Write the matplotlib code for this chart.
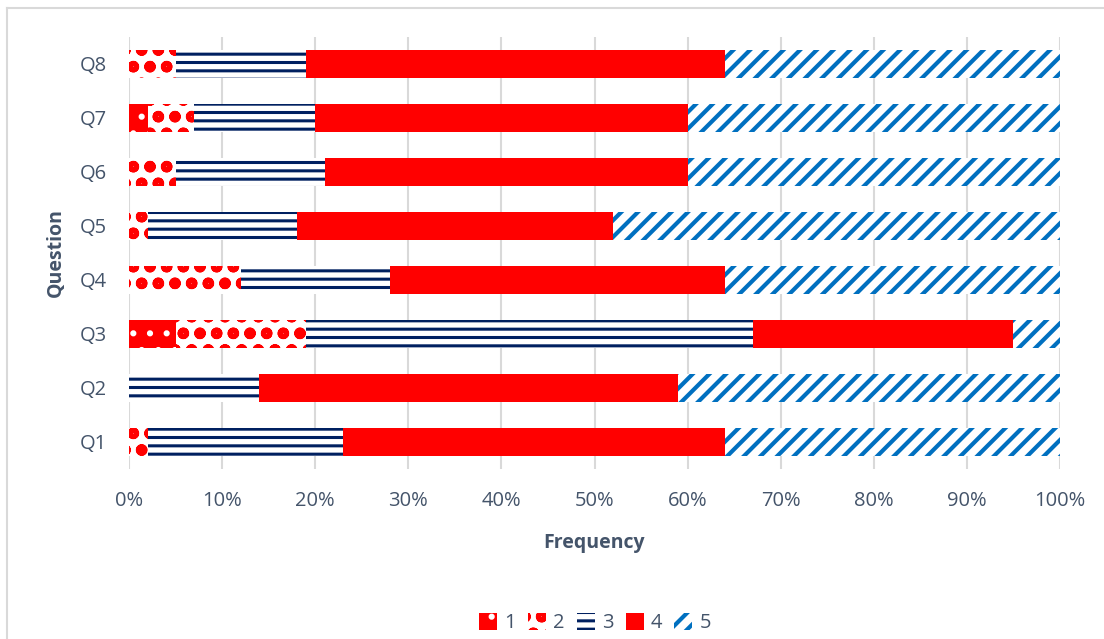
import numpy as np
import matplotlib.pyplot as plt
from matplotlib.ticker import PercentFormatter

plt.rcParams['font.family'] = ['Open Sans', 'DejaVu Sans']
plt.rcParams['hatch.linewidth'] = 2.2

questions = ['Q1', 'Q2', 'Q3', 'Q4', 'Q5', 'Q6', 'Q7', 'Q8']
series_names = ['1', '2', '3', '4', '5']
r1 = [0, 0, 5, 0, 0, 0, 2, 0]
r2 = [2, 0, 14, 12, 2, 5, 5, 5]
r3 = [21, 14, 48, 16, 16, 16, 13, 14]
r4 = [41, 45, 28, 36, 34, 39, 40, 45]
r5 = [36, 41, 5, 36, 48, 40, 40, 36]

# face, hatch colour, hatch, hatch width
styles = [
    ('#FF0000', 'white', '.', 2.0),
    ('white', '#FF0000', 'o', 3.6),
    ('white', '#002060', '--', 2.2),
    ('#FF0000', '#FF0000', None, 2.2),
    ('white', '#0070C0', '//', 3.0),
]
txt = '#44546A'
grid = '#D9D9D9'

fig = plt.figure(figsize=(11.04, 6.39), dpi=100)
ax = fig.add_axes([129 / 1104, 1 - 469 / 639, 931 / 1104, 432 / 639])

y = np.arange(len(questions))
left = np.zeros(len(questions))
for name, vals, (fc, hc, h, hw) in zip(series_names, [r1, r2, r3, r4, r5], styles):
    bars = ax.barh(y, vals, left=left, height=0.52, color=fc, edgecolor=hc,
                   hatch=h, linewidth=0, label=name, zorder=2)
    for b in bars:
        if hasattr(b, 'set_hatch_linewidth'):
            b.set_hatch_linewidth(hw)
    left += np.array(vals)

ax.set_xlim(0, 100)
ax.set_ylim(-0.5, len(questions) - 0.5)
ax.set_xticks(np.arange(0, 101, 10))
ax.xaxis.set_major_formatter(PercentFormatter(decimals=0))
ax.set_yticks(y)
ax.set_yticklabels(questions)
ax.tick_params(length=0, labelsize=14.5, colors=txt)
ax.tick_params(axis='x', pad=16)
ax.tick_params(axis='y', pad=16)
ax.grid(axis='x', color=grid, linewidth=1.5, zorder=0)
for s in ax.spines.values():
    s.set_visible(False)

ax.set_xlabel('Frequency', fontsize=14, fontweight='bold', color=txt, labelpad=16)
ax.set_ylabel('Question', fontsize=14, fontweight='bold', color=txt, labelpad=10)

leg = fig.legend(loc='center', bbox_to_anchor=(595 / 1104, 1 - 623 / 639), ncol=5,
                 frameon=False, fontsize=14.5, labelcolor=txt, handlelength=0.9,
                 handleheight=0.9, handletextpad=0.35, columnspacing=0.6)
for p, (fc, hc, h, hw) in zip(leg.get_patches(), styles):
    if hasattr(p, 'set_hatch_linewidth'):
        p.set_hatch_linewidth(hw)

# outer chart border
fig.add_artist(plt.Line2D([7 / 1104, 7 / 1104], [0, 1 - 8 / 639], transform=fig.transFigure,
                          color=grid, linewidth=1.5))
fig.add_artist(plt.Line2D([7 / 1104, 1], [1 - 8 / 639, 1 - 8 / 639], transform=fig.transFigure,
                          color=grid, linewidth=1.5))

fig.savefig('out.png', dpi=100, facecolor='white')
